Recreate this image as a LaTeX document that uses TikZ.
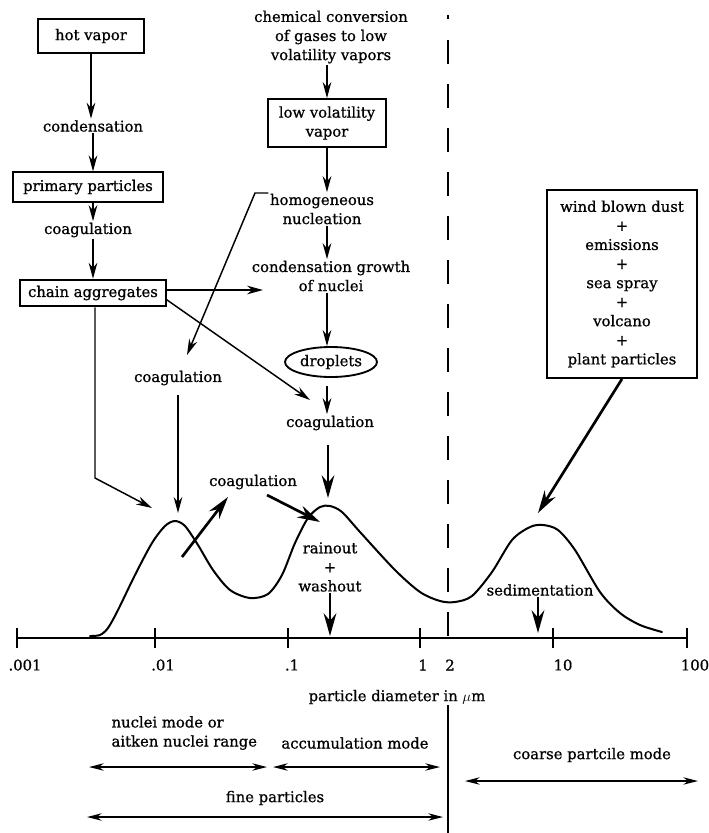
\documentclass[tikz,border=0pt]{standalone}
\usepackage{fontspec}
\setmainfont{DejaVu Serif}
\newfontfamily\heavyserif{DejaVu Serif}[FakeBold=0.8]
\usetikzlibrary{arrows.meta,shapes.geometric}
\begin{document}
\begin{tikzpicture}[x=0.75pt,y=-0.75pt,
  txt/.style={font=\heavyserif\fontsize{11.1}{14.3}\selectfont, align=center, inner sep=1pt},
  box/.style={txt, draw, line width=1.4pt, inner sep=2pt},
  arrA/.style={line width=1.1pt, -{Stealth[length=12pt,width=6.5pt]}},
  arrB/.style={line width=2pt, -{Stealth[length=17pt,width=9.5pt]}},
  dbl/.style={line width=1.3pt, {Stealth[length=11pt,width=5.5pt]}-{Stealth[length=11pt,width=5.5pt]}},
  curve/.style={line width=1.5pt, line join=round, line cap=round},
  tickline/.style={line width=1.3pt}]
\useasboundingbox (0,0) rectangle (709,833);

% left column
\node[box, minimum width=79pt, minimum height=26pt] (hot) at (91,36) {hot vapor};
\node[txt] (cond) at (93,126) {condensation};
\node[box, minimum width=112pt, minimum height=22pt] (prim) at (88,187) {primary particles};
\node[txt] (coagA) at (88,230) {coagulation};
\node[box, minimum width=109pt, minimum height=20pt] (chain) at (93,293) {chain aggregates};

% centre column
\node[txt] (chem) at (331,37) {chemical conversion\\of gases to low\\volatility vapors};
\node[box, minimum width=88pt, minimum height=36pt] (lvv) at (327,123) {low volatility\\vapor};
\node[txt] (homog) at (322,209) {homogeneous\\nucleation};
\node[txt] (cgrow) at (331,276) {condensation growth\\of nuclei};
\node[txt, draw, ellipse, line width=1.4pt, minimum width=69pt, minimum height=22.5pt, inner sep=0pt] (drop) at (331,362) {droplets};
\node[txt] (coagB) at (330,423) {coagulation};
\node[txt] (coagC) at (178,378) {coagulation};
\node[txt] (coagD) at (253,482) {coagulation};
\node[txt] (rain) at (330,567) {rainout\\+\\washout};
\node[txt] (sed) at (540,590) {sedimentation};
\node[box, minimum width=112pt, minimum height=141pt] (wind) at (622,284) {wind blown dust\\+\\emissions\\+\\sea spray\\+\\volcano\\+\\plant particles};

% coordinates
\coordinate (cgIn) at (263,290);
\coordinate (chDiag) at (310,400);
\coordinate (hb) at (255,193);
\coordinate (coagCin) at (187,355);
\coordinate (cv) at (95,478);
\coordinate (pk1in) at (152,508);
\coordinate (pk1top) at (178,513);
\coordinate (pk2top) at (328,498);
\coordinate (upS) at (182,557);
\coordinate (coagDin) at (228,497);
\coordinate (dnS) at (267,495);
\coordinate (pk2in) at (320,522);
\coordinate (ax1) at (330,636);
\coordinate (ax2) at (538,633);
\coordinate (pk3in) at (538,513);

% left column arrows
\draw[arrA] (hot.south) -- (hot.south |- cond.north);
\draw[arrA] (cond.south) -- (cond.south |- prim.north);
\draw[arrA] (prim.south -| cond.south) -- (cond.south |- coagA.north);
\draw[arrA] (coagA.south -| chain.north) -- (chain.north);

% centre column arrows
\draw[arrA] (chem.south -| lvv.north) -- (lvv.north);
\draw[arrA] (lvv.south) -- (lvv.south |- homog.north);
\draw[arrA] (homog.south -| lvv.south) -- (lvv.south |- cgrow.north);
\draw[arrA] (cgrow.south -| lvv.south) -- (lvv.south |- drop.north);
\draw[arrA, shorten <=6pt] (drop.south -| lvv.south) -- (lvv.south |- coagB.north);

% cross connectors
\draw[arrA] (chain.east |- cgIn) -- (cgIn);
\draw[arrA] ([yshift=-5pt]chain.east) -- (chDiag);
\draw[arrA] (homog.west |- hb) -- (hb) -- (coagCin);
\draw[arrA] (chain.south -| cv) -- (cv) -- (pk1in);
\draw[arrA, shorten <=6pt] (coagC.south) -- (pk1top);
\draw[arrB, shorten <=10pt] (coagB.south -| pk2top) -- (pk2top);
\draw[arrB] (upS) -- (coagDin);
\draw[arrB] (dnS) -- (pk2in);
\draw[arrB] (rain.south) -- (ax1);
\draw[arrB] (sed.south -| ax2) -- (ax2);
\draw[arrB] (wind.south) -- (pk3in);

% distribution curve
\draw[curve] plot[smooth, tension=0.5] coordinates {
 (90,636) (100,635) (108,628) (118,610) (135,575) (152,543) (165,526) (175,521)
 (185,526) (198,545) (213,570) (230,590) (250,598) (268,594) (282,575) (295,543)
 (308,518) (320,507) (330,506) (342,512) (360,532) (395,570) (420,592) (440,601)
 (455,602) (472,596) (492,572) (512,540) (530,527) (543,525) (558,530) (575,550)
 (600,592) (620,613) (640,625) (662,632)};

% axis
\draw[line width=1.4pt] (16,638) -- (687,638);
\foreach \x in {17,155,288,420,553,687} \draw[tickline] (\x,628) -- (\x,648);
\node[txt] (t1) at (25,665) {.001};
\node[txt] (t2) at (163,665) {.01};
\node[txt] (t3) at (292,665) {.1};
\node[txt] (t4) at (423,665) {1};
\node[txt] (t5) at (450,665) {2};
\node[txt] (t6) at (563,665) {10};
\node[txt] (t7) at (695,665) {100};
\node[txt] (pd) at (397,697) {particle diameter in $\mu$m};

% boundary line
\draw[tickline] (448,15) -- (448,19);
\draw[tickline, dash pattern=on 18pt off 15pt] (448,40) -- (448,640);
\draw[tickline] (448,705) -- (448,833);

% size ranges
\node[txt, align=left, anchor=west] (nm) at (110,733) {nuclei mode or\\aitken nuclei range};
\node[txt] (acc) at (355,743) {accumulation mode};
\node[txt] (fine) at (275,798) {fine particles};
\node[txt] (coarse) at (592,755) {coarse partcile mode};
\coordinate (n1) at (89,767); \coordinate (n2) at (267,767);
\coordinate (a1) at (273,767); \coordinate (a2) at (440,767);
\coordinate (f1) at (87,817); \coordinate (f2) at (443,817);
\coordinate (c1) at (465,781); \coordinate (c2) at (698,781);
\draw[dbl] (n1) -- (n2);
\draw[dbl] (a1) -- (a2);
\draw[dbl] (f1) -- (f2);
\draw[dbl] (c1) -- (c2);
\end{tikzpicture}
\end{document}
